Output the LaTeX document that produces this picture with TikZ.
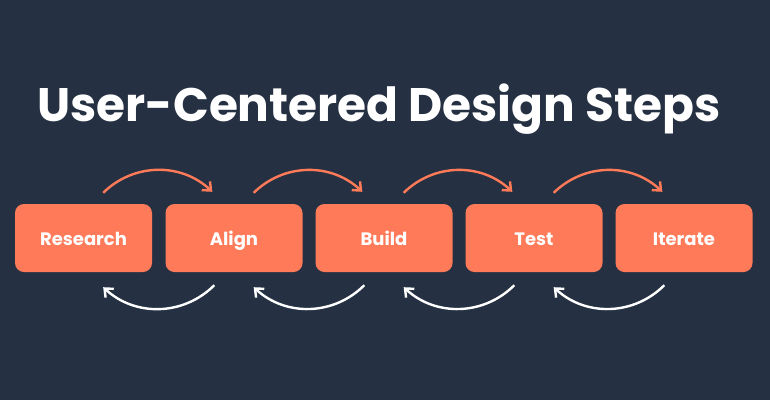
\documentclass[tikz,border=0pt]{standalone}
\usepackage{fontspec}
\setmainfont{Poppins}
\usetikzlibrary{arrows.meta,calc}
\definecolor{bg}{HTML}{253142}
\definecolor{coral}{HTML}{FF7A59}
\tikzset{
  stepbox/.style={fill=coral, rounded corners=9pt, minimum width=137pt, minimum height=68pt, inner sep=0pt, text height=16pt, text depth=2pt, text=white, font=\fontsize{18}{20}\selectfont\bfseries},
  fwd/.style={draw=coral, line width=2.4pt, -{Straight Barb[length=7pt,width=12pt,line width=2.4pt]}, bend left=44},
  back/.style={draw=white, line width=2.4pt, -{Straight Barb[length=7pt,width=12pt,line width=2.4pt]}, bend left=44},
}
\begin{document}
\begin{tikzpicture}[x=1pt,y=-1pt]
\fill[bg] (0,0) rectangle (770,400);
\useasboundingbox (0,0) rectangle (770,400);
\node[text=white, font=\fontsize{47}{50}\selectfont\bfseries] (title) at (379,109) {User-Centered Design Steps};
\node[stepbox] (s1) at (83.5,238) {Research};
\node[stepbox] (s2) at (234,238) {Align};
\node[stepbox] (s3) at (384,238) {Build};
\node[stepbox] (s4) at (534,238) {Test};
\node[stepbox] (s5) at (684,238) {Iterate};
\foreach \a/\b in {s1/s2,s2/s3,s3/s4,s4/s5}{
  \draw[fwd] ([shift={(-49,-11)}]\a.north east) to ([shift={(47,-12)}]\b.north west);
  \draw[back] ([shift={(49,13)}]\b.south west) to ([shift={(-49,15)}]\a.south east);
}
\end{tikzpicture}
\end{document}
